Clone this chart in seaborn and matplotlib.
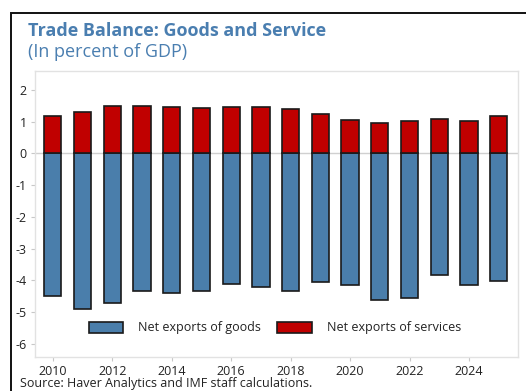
import matplotlib
matplotlib.use("Agg")
import matplotlib.pyplot as plt
from matplotlib.patches import Rectangle, Patch
import numpy as np
import pandas as pd
import seaborn as sns

# Net exports, percent of GDP
years = list(range(2010, 2026))
goods = [-4.50, -4.90, -4.71, -4.33, -4.40, -4.34, -4.11, -4.21,
         -4.32, -4.06, -4.14, -4.61, -4.56, -3.84, -4.14, -4.03]
services = [1.19, 1.31, 1.50, 1.51, 1.48, 1.44, 1.45, 1.45,
            1.39, 1.26, 1.04, 0.97, 1.03, 1.08, 1.03, 1.17]
series_names = ["Net exports of goods", "Net exports of services"]
series_colors = ["#4a7eab", "#c00000"]
y_ticks = [2, 1, 0, -1, -2, -3, -4, -5, -6]
x_ticks = [2010, 2012, 2014, 2016, 2018, 2020, 2022, 2024]

title = "Trade Balance: Goods and Service"
subtitle = "(In percent of GDP)"
source = "Source: Haver Analytics and IMF staff calculations."

df = pd.DataFrame({
    "year": years * 2,
    "value": goods + services,
    "series": [series_names[0]] * len(years) + [series_names[1]] * len(years),
})

sns.set_theme(style="white")
plt.rcParams["font.family"] = ["Open Sans", "DejaVu Sans"]

fig = plt.figure(figsize=(5.26, 3.91), dpi=100)
ax = fig.add_axes([35 / 526, 1 - 356.5 / 391, 483 / 526, 285.5 / 391])

sns.barplot(data=df, x="year", y="value", hue="series", dodge=False,
            palette=dict(zip(series_names, series_colors)), native_scale=True,
            width=0.58, edgecolor="#1a1a1a", linewidth=1.2, saturation=1,
            legend=False, ax=ax, zorder=3)

ax.axhline(0, color="#d0d0d0", linewidth=1.0, zorder=2)

ax.set_xlim(2009.4, 2025.65)
ax.set_ylim(-6.4, 2.6)
ax.set_xticks(x_ticks)
ax.set_xticklabels([str(t) for t in x_ticks])
ax.set_yticks(y_ticks)
ax.set_yticklabels([str(t) for t in y_ticks])
ax.set_xlabel("")
ax.set_ylabel("")
ax.tick_params(axis="both", which="both", length=3, width=0.8, color="#c8c8c8",
               labelsize=9, labelcolor="#222222", pad=3)
ax.tick_params(axis="x", bottom=True)
ax.tick_params(axis="y", left=True)
for sp in ax.spines.values():
    sp.set_color("#e2e2e2")
    sp.set_linewidth(1.0)

handles = [Patch(facecolor=c, edgecolor="#1a1a1a", linewidth=1.2) for c in series_colors]
ax.legend(handles, series_names, loc="center", bbox_to_anchor=(0.497, 0.1),
          ncol=2, frameon=False, fontsize=9, handlelength=2.75, handleheight=1.0,
          columnspacing=1.3, handletextpad=1.2, labelcolor="#222222")

# Outer frame around the whole exhibit
fig.patches.append(Rectangle((11 / 526, -0.1), 1.2, 1 - 13 / 391 + 0.1,
                             transform=fig.transFigure, fill=False,
                             edgecolor="#111111", linewidth=1.4, zorder=0))

fig.text(28 / 526, 1 - 35.5 / 391, title, fontsize=13, fontweight="bold",
         color="#4a7eb0", ha="left", va="baseline")
fig.text(28 / 526, 1 - 57 / 391, subtitle, fontsize=13, color="#4a7eb0",
         ha="left", va="baseline")
fig.text(20 / 526, 1 - 387 / 391, source, fontsize=9, color="#222222",
         ha="left", va="baseline")

fig.savefig("out.png", dpi=100)
